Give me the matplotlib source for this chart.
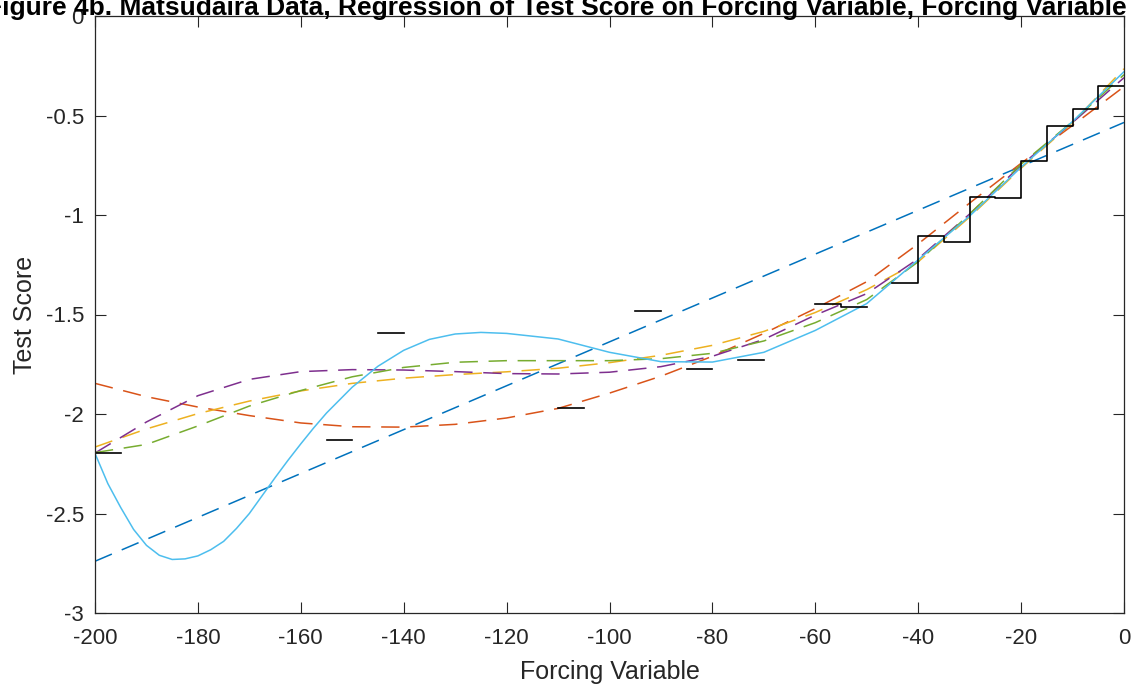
import numpy as np
import matplotlib.pyplot as plt

plt.rcParams['font.family'] = ['Liberation Sans', 'DejaVu Sans']
plt.rcParams['axes.unicode_minus'] = False

# polynomial fits, x every 10 from -200 to 0
fit_x = [-200, -190, -180, -170, -160, -150, -140, -130, -120, -110, -100,
         -90, -80, -70, -60, -50, -40, -30, -20, -10, 0]
lin_x = [-200, 0]
lin_y = [-2.74, -0.535]
quad_y = [-1.846, -1.913, -1.965, -2.008, -2.045, -2.064, -2.066, -2.052, -2.020, -1.972, -1.895,
          -1.810, -1.710, -1.595, -1.470, -1.335, -1.145, -0.940, -0.740, -0.550, -0.355]
cub_y = [-2.166, -2.075, -1.998, -1.935, -1.884, -1.846, -1.820, -1.802, -1.788, -1.770, -1.742,
         -1.705, -1.655, -1.585, -1.490, -1.375, -1.235, -1.010, -0.765, -0.535, -0.265]
quart_y = [-2.196, -2.040, -1.908, -1.826, -1.787, -1.777, -1.779, -1.787, -1.797, -1.799, -1.790,
           -1.762, -1.710, -1.625, -1.503, -1.395, -1.220, -0.995, -0.750, -0.535, -0.310]
quint_y = [-2.194, -2.153, -2.060, -1.960, -1.882, -1.813, -1.766, -1.740, -1.732, -1.732, -1.732,
           -1.722, -1.695, -1.633, -1.541, -1.425, -1.235, -0.995, -0.745, -0.530, -0.295]

# sixth order fit, denser on the left where it bends a lot
sext_x = [-200, -197.5, -195, -192.5, -190, -187.5, -185, -182.5, -180, -177.5, -175, -172.5,
          -170, -167.5, -165, -162.5, -160, -157.5, -155, -150, -145, -140, -135, -130, -125,
          -120, -110, -100, -90, -80, -70, -60, -50, -40, -30, -20, -10, 0]
sext_y = [-2.198, -2.350, -2.470, -2.580, -2.660, -2.710, -2.731, -2.728, -2.713, -2.682, -2.640,
          -2.575, -2.500, -2.410, -2.320, -2.233, -2.150, -2.070, -1.995, -1.865, -1.760, -1.680,
          -1.625, -1.598, -1.590, -1.595, -1.623, -1.690, -1.737, -1.739, -1.690, -1.580,
          -1.445, -1.225, -1.005, -0.760, -0.530, -0.280]

# bin means (bins of width 5, only the bins that have data)
bin_start = [-200, -155, -145, -110, -95, -85, -75, -60, -55, -45, -40, -35, -30, -25,
             -20, -15, -10, -5]
bin_mean = [-2.196, -2.131, -1.593, -1.970, -1.480, -1.774, -1.729, -1.449, -1.464, -1.343,
            -1.106, -1.137, -0.908, -0.916, -0.730, -0.551, -0.466, -0.352]

fig = plt.figure(figsize=(11.31, 6.87), dpi=100)
ax = fig.add_axes([95 / 1131, 74 / 687, 1029 / 1131, 597 / 687])

dash = (0, (12, 7))
ax.plot(lin_x, lin_y, color='#0072BD', lw=1.1, ls=dash)
ax.plot(fit_x, quad_y, color='#D95319', lw=1.1, ls=dash)
ax.plot(fit_x, cub_y, color='#EDB120', lw=1.1, ls=dash)
ax.plot(fit_x, quart_y, color='#7E2F8E', lw=1.1, ls=dash)
ax.plot(fit_x, quint_y, color='#77AC30', lw=1.1, ls=dash)
ax.plot(sext_x, sext_y, color='#4DBEEE', lw=1.1)

# stairs: empty bins become gaps
edges = np.arange(-200, 5, 5)
vals = np.full(len(edges), np.nan)
for s, m in zip(bin_start, bin_mean):
    vals[int((s + 200) / 5)] = m
vals[-1] = vals[-2]
ax.plot(edges, vals, drawstyle='steps-post', color='black', lw=1.2)

ax.set_xlim(-200, 0)
ax.set_ylim(-3, 0)
ax.set_xticks(np.arange(-200, 1, 20))
ax.set_yticks([-3, -2.5, -2, -1.5, -1, -0.5, 0])
ax.set_yticklabels(['-3', '-2.5', '-2', '-1.5', '-1', '-0.5', '0'])
ax.tick_params(direction='in', top=True, right=True, length=8, width=0.8,
               labelsize=16, pad=8, color='#262626', labelcolor='#262626')
ax.tick_params(axis='x', pad=11)
for sp in ax.spines.values():
    sp.set_color('#262626')
    sp.set_linewidth(0.9)

ax.set_xlabel('Forcing Variable', fontsize=18, color='#262626', labelpad=8)
ax.set_ylabel('Test Score', fontsize=18, color='#262626', labelpad=6)

fig.text(-14 / 1131, 1 - 15 / 687,
         'Figure 4b. Matsudaira Data, Regression of Test Score on Forcing Variable, '
         'Forcing Variable Negative',
         fontsize=19.0, fontweight='bold', ha='left', va='baseline', color='black')

fig.savefig('out.png', dpi=100)
